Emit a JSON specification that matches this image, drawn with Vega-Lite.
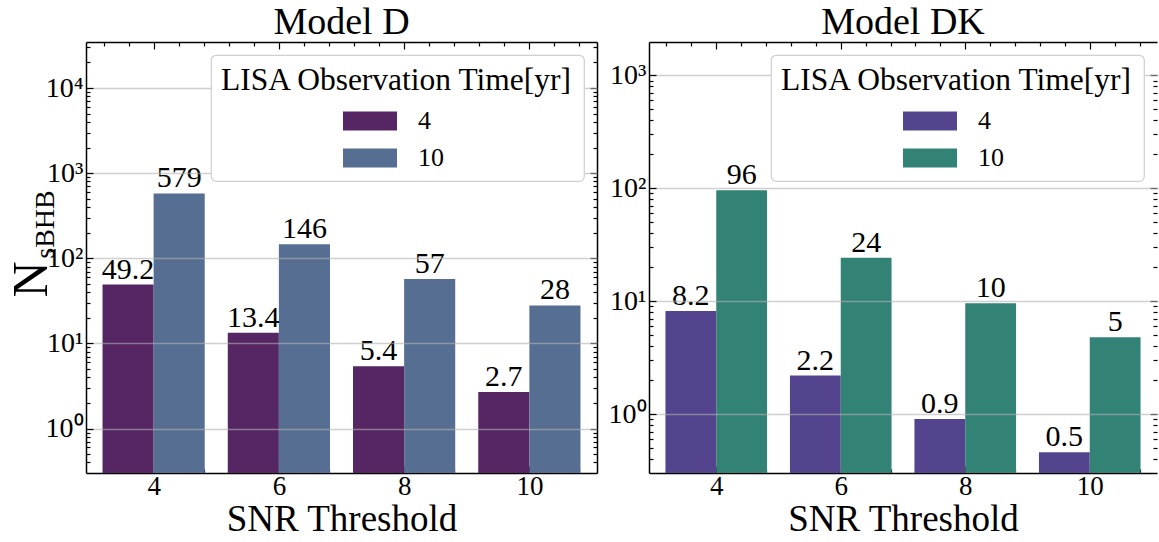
{
  "$schema": "https://vega.github.io/schema/vega-lite/v6.json",
  "padding": {"left": 6, "top": 4, "right": 0, "bottom": 0},
  "background": "white",
  "data": {"values": [
    {"model": "D", "snr": 4, "obs": "4", "value": 49.2, "label": "49.2"},
    {"model": "D", "snr": 6, "obs": "4", "value": 13.4, "label": "13.4"},
    {"model": "D", "snr": 8, "obs": "4", "value": 5.4, "label": "5.4"},
    {"model": "D", "snr": 10, "obs": "4", "value": 2.7, "label": "2.7"},
    {"model": "D", "snr": 4, "obs": "10", "value": 579, "label": "579"},
    {"model": "D", "snr": 6, "obs": "10", "value": 146, "label": "146"},
    {"model": "D", "snr": 8, "obs": "10", "value": 57, "label": "57"},
    {"model": "D", "snr": 10, "obs": "10", "value": 28, "label": "28"},
    {"model": "DK", "snr": 4, "obs": "4", "value": 8.2, "label": "8.2"},
    {"model": "DK", "snr": 6, "obs": "4", "value": 2.2, "label": "2.2"},
    {"model": "DK", "snr": 8, "obs": "4", "value": 0.91, "label": "0.9"},
    {"model": "DK", "snr": 10, "obs": "4", "value": 0.46, "label": "0.5"},
    {"model": "DK", "snr": 4, "obs": "10", "value": 96, "label": "96"},
    {"model": "DK", "snr": 6, "obs": "10", "value": 24.3, "label": "24"},
    {"model": "DK", "snr": 8, "obs": "10", "value": 9.6, "label": "10"},
    {"model": "DK", "snr": 10, "obs": "10", "value": 4.8, "label": "5"}
  ]},
  "spacing": 10,
  "resolve": {"scale": {"color": "independent", "x": "independent", "y": "independent"}, "legend": {"color": "independent"}},
  "hconcat": [
    {
      "title": {"text": "Model D"},
      "width": 511,
      "height": 431,
      "transform": [{"filter": "datum.model === 'D'"}],
      "resolve": {"axis": {"x": "independent", "y": "independent"}},
      "layer": [
        {
          "transform": [{"filter": "datum.obs === '4'"}],
          "mark": {"type": "bar", "width": 51.1, "xOffset": -25.55},
          "encoding": {
            "x": {"field": "snr", "type": "quantitative", "scale": {"domain": [3, 11], "nice": false, "zero": false},
              "axis": {"orient": "bottom", "values": [4, 6, 8, 10], "tickSize": -7, "labelPadding": 7, "labelFontSize": 27, "titlePadding": 2, "title": "SNR Threshold", "grid": false}},
            "y": {"field": "value", "type": "quantitative", "stack": null, "scale": {"type": "log", "domain": [0.301, 34750], "nice": false},
              "axis": {"orient": "left", "values": [1, 10, 100, 1000, 10000], "tickSize": -7, "labelPadding": 10, "grid": true, "zindex": 1,
                "labelExpr": "'10' + ['⁰','¹','²','³','⁴'][round(log(datum.value)/LN10)]",
                "title": "N", "titleFontSize": 50, "titleX": -40, "titleY": 237, "titleAngle": -90, "titleAlign": "center", "titleBaseline": "alphabetic"}},
            "color": {"field": "obs", "type": "nominal", "title": "LISA Observation Time[yr]", "scale": {"domain": ["4", "10"], "range": ["#552564", "#566e92"]}}
          }
        },
        {
          "transform": [{"filter": "datum.obs === '10'"}],
          "mark": {"type": "bar", "width": 51.1, "xOffset": 25.55},
          "encoding": {
            "x": {"field": "snr", "type": "quantitative", "axis": {"orient": "top", "values": [4, 6, 8, 10], "tickSize": -7, "labels": false, "title": null, "grid": false}},
            "y": {"field": "value", "type": "quantitative", "stack": null, "axis": {"orient": "right", "values": [1, 10, 100, 1000, 10000], "tickSize": -7, "labels": false, "title": null, "grid": false}},
            "color": {"field": "obs", "type": "nominal", "title": "LISA Observation Time[yr]", "scale": {"domain": ["4", "10"], "range": ["#552564", "#566e92"]}}
          }
        },
        {
          "transform": [{"filter": "datum.obs === '4'"}],
          "mark": {"type": "text", "dx": -25.55, "dy": -6},
          "encoding": {
            "x": {"field": "snr", "type": "quantitative", "axis": {"orient": "bottom", "values": [3.2, 3.6, 4.4, 4.8, 5.2, 5.6, 6.4, 6.8, 7.2, 7.6, 8.4, 8.8, 9.2, 9.6, 10.4, 10.8], "tickSize": -4, "labels": false, "domain": false, "title": null, "grid": false}},
            "y": {"field": "value", "type": "quantitative", "axis": {"orient": "left", "values": [0.4, 0.5, 0.6, 0.7, 0.8, 0.9, 2, 3, 4, 5, 6, 7, 8, 9, 20, 30, 40, 50, 60, 70, 80, 90, 200, 300, 400, 500, 600, 700, 800, 900, 2000, 3000, 4000, 5000, 6000, 7000, 8000, 9000, 20000, 30000], "tickSize": -4, "labels": false, "domain": false, "grid": false,
              "title": "sBHB", "titleFontSize": 28, "titleX": -33, "titleY": 182, "titleAngle": -90, "titleAlign": "center", "titleBaseline": "alphabetic"}},
            "text": {"field": "label", "type": "nominal"}
          }
        },
        {
          "transform": [{"filter": "datum.obs === '10'"}],
          "mark": {"type": "text", "dx": 25.55, "dy": -6},
          "encoding": {
            "x": {"field": "snr", "type": "quantitative", "axis": {"orient": "top", "values": [3.2, 3.6, 4.4, 4.8, 5.2, 5.6, 6.4, 6.8, 7.2, 7.6, 8.4, 8.8, 9.2, 9.6, 10.4, 10.8], "tickSize": -4, "labels": false, "domain": false, "title": null, "grid": false}},
            "y": {"field": "value", "type": "quantitative", "axis": {"orient": "right", "values": [0.4, 0.5, 0.6, 0.7, 0.8, 0.9, 2, 3, 4, 5, 6, 7, 8, 9, 20, 30, 40, 50, 60, 70, 80, 90, 200, 300, 400, 500, 600, 700, 800, 900, 2000, 3000, 4000, 5000, 6000, 7000, 8000, 9000, 20000, 30000], "tickSize": -4, "labels": false, "domain": false, "grid": false, "title": null}},
            "text": {"field": "label", "type": "nominal"}
          }
        }
      ]
    },
    {
      "title": {"text": "Model DK"},
      "width": 508,
      "height": 431,
      "transform": [{"filter": "datum.model === 'DK'"}],
      "resolve": {"axis": {"x": "independent", "y": "independent"}},
      "layer": [
        {
          "transform": [{"filter": "datum.obs === '4'"}],
          "mark": {"type": "bar", "width": 50.8, "xOffset": -25.4},
          "encoding": {
            "x": {"field": "snr", "type": "quantitative", "scale": {"domain": [3, 11], "nice": false, "zero": false},
              "axis": {"orient": "bottom", "values": [4, 6, 8, 10], "tickSize": -7, "labelPadding": 7, "labelFontSize": 27, "titlePadding": 2, "title": "SNR Threshold", "grid": false}},
            "y": {"field": "value", "type": "quantitative", "stack": null, "scale": {"type": "log", "domain": [0.302, 1973], "nice": false},
              "axis": {"orient": "left", "values": [1, 10, 100, 1000], "tickSize": -7, "labelPadding": 10, "grid": true, "zindex": 1,
                "labelExpr": "'10' + ['⁰','¹','²','³','⁴'][round(log(datum.value)/LN10)]", "title": null}},
            "color": {"field": "obs", "type": "nominal", "title": "LISA Observation Time[yr]", "scale": {"domain": ["4", "10"], "range": ["#54448e", "#338276"]}}
          }
        },
        {
          "transform": [{"filter": "datum.obs === '10'"}],
          "mark": {"type": "bar", "width": 50.8, "xOffset": 25.4},
          "encoding": {
            "x": {"field": "snr", "type": "quantitative", "axis": {"orient": "top", "values": [4, 6, 8, 10], "tickSize": -7, "labels": false, "title": null, "grid": false}},
            "y": {"field": "value", "type": "quantitative", "stack": null, "axis": {"orient": "right", "values": [1, 10, 100, 1000], "tickSize": -7, "labels": false, "title": null, "grid": false, "domain": false}},
            "color": {"field": "obs", "type": "nominal", "title": "LISA Observation Time[yr]", "scale": {"domain": ["4", "10"], "range": ["#54448e", "#338276"]}}
          }
        },
        {
          "transform": [{"filter": "datum.obs === '4'"}],
          "mark": {"type": "text", "dx": -25.4, "dy": -6},
          "encoding": {
            "x": {"field": "snr", "type": "quantitative", "axis": {"orient": "bottom", "values": [3.2, 3.6, 4.4, 4.8, 5.2, 5.6, 6.4, 6.8, 7.2, 7.6, 8.4, 8.8, 9.2, 9.6, 10.4, 10.8], "tickSize": -4, "labels": false, "domain": false, "title": null, "grid": false}},
            "y": {"field": "value", "type": "quantitative", "axis": {"orient": "left", "values": [0.4, 0.5, 0.6, 0.7, 0.8, 0.9, 2, 3, 4, 5, 6, 7, 8, 9, 20, 30, 40, 50, 60, 70, 80, 90, 200, 300, 400, 500, 600, 700, 800, 900], "tickSize": -4, "labels": false, "domain": false, "grid": false, "title": null}},
            "text": {"field": "label", "type": "nominal"}
          }
        },
        {
          "transform": [{"filter": "datum.obs === '10'"}],
          "mark": {"type": "text", "dx": 25.4, "dy": -6},
          "encoding": {
            "x": {"field": "snr", "type": "quantitative", "axis": {"orient": "top", "values": [3.2, 3.6, 4.4, 4.8, 5.2, 5.6, 6.4, 6.8, 7.2, 7.6, 8.4, 8.8, 9.2, 9.6, 10.4, 10.8], "tickSize": -4, "labels": false, "domain": false, "title": null, "grid": false}},
            "y": {"field": "value", "type": "quantitative", "axis": {"orient": "right", "values": [0.4, 0.5, 0.6, 0.7, 0.8, 0.9, 2, 3, 4, 5, 6, 7, 8, 9, 20, 30, 40, 50, 60, 70, 80, 90, 200, 300, 400, 500, 600, 700, 800, 900], "tickSize": -4, "labels": false, "domain": false, "grid": false, "title": null}},
            "text": {"field": "label", "type": "nominal"}
          }
        }
      ]
    }
  ],
  "config": {
    "view": {"stroke": null},
    "font": "Liberation Serif",
    "title": {"font": "Liberation Serif", "fontSize": 38, "fontWeight": "normal", "color": "black", "offset": -1},
    "text": {"font": "Liberation Serif", "fontSize": 30, "color": "black", "baseline": "alphabetic", "align": "center"},
    "axis": {
      "domainColor": "black", "domainWidth": 1.5, "tickColor": "black", "tickWidth": 1.2,
      "labelFont": "Liberation Serif", "labelFontSize": 28, "labelColor": "black", "labelFlush": false, "labelOverlap": false,
      "titleFont": "Liberation Serif", "titleFontSize": 37, "titleFontWeight": "normal", "titleColor": "black", "titlePadding": 0,
      "gridColor": "#b0b0b0", "gridOpacity": 0.6, "gridWidth": 1.3
    },
    "legend": {
      "orient": "top-right", "offset": 13, "padding": 10, "zindex": 2,
      "fillColor": "white", "strokeColor": "#d0d0d0", "strokeWidth": 1.2, "cornerRadius": 5,
      "titleFont": "Liberation Serif", "titleFontSize": 31.5, "titleFontWeight": "normal", "titleColor": "black", "titlePadding": 11, "titleLimit": 1000,
      "labelFont": "Liberation Serif", "labelFontSize": 26, "labelColor": "black", "labelLimit": 1000,
      "symbolType": "M-2,-0.7H2V0.7H-2Z", "symbolSize": 729, "symbolStrokeWidth": 0, "symbolOpacity": 1,
      "symbolOffset": 135.5, "labelOffset": 34.5, "rowPadding": 10
    }
  }
}
